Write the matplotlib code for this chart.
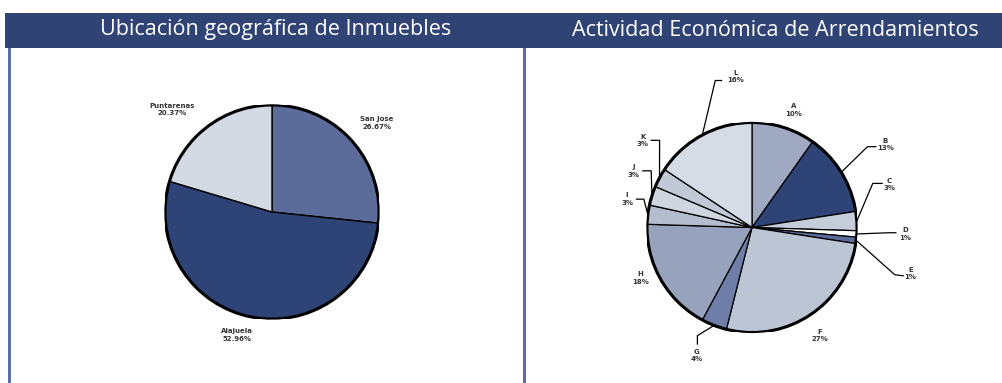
"""
Two pie panels: property location and rental economic activity.
"""

import numpy as np
import matplotlib.pyplot as plt
from matplotlib.patches import Rectangle, Circle

plt.rcParams["font.family"] = ["Liberation Sans Narrow", "DejaVu Sans"]

# Data
ubic_labels = ["San Jose", "Alajuela", "Puntarenas"]
ubic_values = [26.67, 52.96, 20.37]
ubic_colors = ["#5b6c9b", "#2e4477", "#d3dae3"]

act_labels = ["A", "B", "C", "D", "E", "F", "G", "H", "I", "J", "K", "L"]
act_values = [10, 13, 3, 1, 1, 27, 4, 18, 3, 3, 3, 16]
act_colors = ["#9fa9c1", "#2e4477", "#c5cdd9", "#ffffff", "#5b6c9b", "#bcc5d4",
              "#6f7ea8", "#97a3bd", "#b4bdcd", "#cfd6e0", "#c1c9d6", "#d6dce5"]

titles = ["Ubicación geográfica de Inmuebles", "Actividad Económica de Arrendamientos"]

# Label placement (pie radius units)
ubic_text_pos = {"San Jose": (0.98, 0.83), "Alajuela": (-0.33, -1.15),
                 "Puntarenas": (-0.93, 0.96)}
act_text_pos = {"A": (0.40, 1.12), "B": (1.27, 0.79), "C": (1.31, 0.41),
                "D": (1.46, -0.06), "E": (1.51, -0.44), "F": (0.65, -1.03),
                "G": (-0.53, -1.22), "H": (-1.06, -0.48), "I": (-1.19, 0.27),
                "J": (-1.13, 0.54), "K": (-1.04, 0.83), "L": (-0.16, 1.44)}
# leader lines: elbow point, end point
act_leaders = {"B": ((1.10, 0.77), (1.18, 0.77)),
               "C": ((1.15, 0.42), (1.24, 0.42)),
               "D": ((1.30, -0.05), (1.37, -0.05)),
               "E": ((1.36, -0.45), (1.44, -0.46)),
               "G": ((-0.52, -1.03), (-0.52, -1.11)),
               "I": ((-1.03, 0.27), (-1.10, 0.27)),
               "J": ((-0.96, 0.54), (-1.04, 0.54)),
               "K": ((-0.88, 0.83), (-0.96, 0.83)),
               "L": ((-0.35, 1.40), (-0.29, 1.40))}

W, H = 1003, 383
fig = plt.figure(figsize=(W / 100, H / 100), dpi=100)
fig.patch.set_facecolor("white")


def px_axes(cx, cy, r):
    # axes of size 2r x 2r pixels centred on (cx, cy), y measured from top
    return fig.add_axes([(cx - r) / W, 1 - (cy + r) / H, 2 * r / W, 2 * r / H])


# Header band and panel borders
fig.add_artist(Rectangle((5 / W, 1 - 48 / H), (W - 5) / W, 35 / H,
                         transform=fig.transFigure, facecolor="#2f4374",
                         edgecolor="none"))
for xb in [9.5, 524.5]:
    fig.add_artist(Rectangle(((xb - 1.5) / W, 0), 3 / W, 1 - 48 / H,
                             transform=fig.transFigure, facecolor="#5b6fa6",
                             edgecolor="none"))
for xt, t in zip([276, 775], titles):
    fig.text(xt / W, 1 - 30 / H, t, color="white", fontsize=15.5,
             ha="center", va="center", family=["Open Sans", "DejaVu Sans"])

lbl_kw = dict(fontsize=5, fontweight="bold", color="#333333",
              ha="center", va="center", linespacing=1.3)

# Left pie
ax1 = px_axes(272, 212, 107)
ax1.pie(ubic_values, colors=ubic_colors, startangle=90, counterclock=False,
        radius=1, wedgeprops=dict(edgecolor="black", linewidth=1.0))
ax1.add_patch(Circle((0, 0), 1, fill=False, edgecolor="black", linewidth=2.2))
for name, val in zip(ubic_labels, ubic_values):
    x, y = ubic_text_pos[name]
    ax1.text(x, y, f"{name}\n{val:.2f}%", **lbl_kw)
ax1.set_xlim(-1, 1)
ax1.set_ylim(-1, 1)
ax1.axis("off")

# Right pie
ax2 = px_axes(752, 227.5, 105)
wedges, _ = ax2.pie(act_values, colors=act_colors, startangle=90,
                    counterclock=False, radius=1,
                    wedgeprops=dict(edgecolor="black", linewidth=0.9))
ax2.add_patch(Circle((0, 0), 1, fill=False, edgecolor="black", linewidth=2.2))
for w, name, val in zip(wedges, act_labels, act_values):
    ang = np.deg2rad((w.theta1 + w.theta2) / 2)
    if name in act_leaders:
        (ex, ey), (fx, fy) = act_leaders[name]
        ax2.plot([np.cos(ang), ex, fx], [np.sin(ang), ey, fy],
                 color="black", linewidth=0.9, clip_on=False)
    x, y = act_text_pos[name]
    ax2.text(x, y, f"{name}\n{val}%", **lbl_kw)
ax2.set_xlim(-1, 1)
ax2.set_ylim(-1, 1)
ax2.axis("off")

plt.savefig("out.png", dpi=100)
